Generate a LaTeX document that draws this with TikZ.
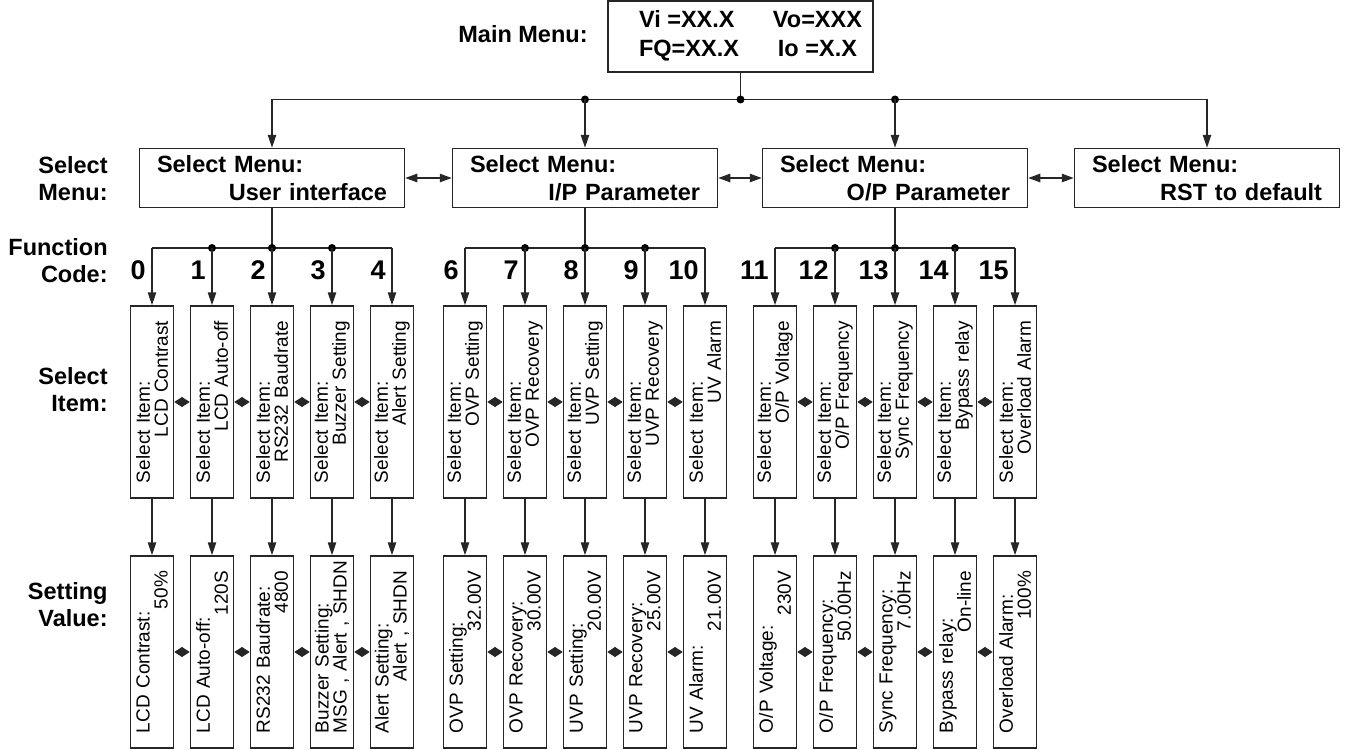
\documentclass[tikz,border=0pt]{standalone}
\usepackage{fontspec}
\setmainfont{Liberation Sans}
\usetikzlibrary{arrows.meta}

\newcommand{\twoline}[2]{#1\\\hspace*{0pt plus 1filll}\mbox{#2}}

\begin{document}
\begin{tikzpicture}[x=0.5pt, y=-0.5pt,
    edge/.style={line width=0.75pt, draw=black!85},
    flow/.style={edge, -{Triangle[length=6.5pt, width=4.2pt]}},
    both/.style={edge, {Triangle[length=6pt, width=4.2pt]}-{Triangle[length=6pt, width=4.2pt]}},
    link/.style={edge, {Triangle[length=4pt, width=5pt]}-{Triangle[length=4pt, width=5pt]}},
    dot/.style={circle, fill=black, inner sep=0pt, minimum size=4pt},
    sidetext/.style={anchor=east, inner sep=0pt, align=right,
        font=\fontsize{11.75}{13.5}\selectfont\bfseries},
    fcode/.style={anchor=east, inner sep=0pt,
        font=\fontsize{13.5}{14}\selectfont\bfseries},
    mainbox/.style={draw=black!85, line width=0.75pt, minimum width=132.5pt,
        minimum height=29.5pt, font=\fontsize{11.75}{14.5}\selectfont\bfseries},
    menubox/.style={draw=black!85, line width=0.75pt, text width=115pt,
        inner xsep=8.75pt, minimum height=29.5pt, align=left,
        font=\fontsize{11.75}{14}\selectfont\bfseries},
    itembox/.style={draw=black!85, line width=0.75pt, rotate=90, text width=81pt,
        inner xsep=7.5pt, inner ysep=1pt, minimum height=21.5pt, align=left,
        font=\fontsize{9.5}{9}\selectfont}
]
    \useasboundingbox (0,0) rectangle (1348,749);

    % row titles
    \node[sidetext] (tmain) at (588,34) {Main Menu:};
    \node[sidetext] (tmenu) at (108,178.5) {Select\\Menu:};
    \node[sidetext] (tcode) at (108,260.5) {Function\\Code:};
    \node[sidetext] (titem) at (108,390) {Select\\Item:};
    \node[sidetext] (tval) at (108,605) {Setting\\Value:};

    % main menu
    \node[mainbox] (main) at (740.5,36.5) {\begin{tabular}{@{\hspace{10pt}}l@{\hspace{17pt}}c@{}}
        Vi =XX.X & Vo=XXX\\ FQ=XX.X & Io =X.X\end{tabular}};

    % select menu
    \node[menubox] (ui) at (272,178) {\twoline{Select Menu:}{User interface}};
    \node[menubox] (ip) at (585,178) {\twoline{Select Menu:}{I/P Parameter}};
    \node[menubox] (op) at (895,178) {\twoline{Select Menu:}{O/P Parameter}};
    \node[menubox] (rst) at (1207,178) {\twoline{Select Menu:}{RST to default}};

    \coordinate (t1) at (272,99.5);
    \coordinate (t2) at (585,99.5);
    \coordinate (t3) at (740.5,99.5);
    \coordinate (t4) at (895,99.5);
    \coordinate (t5) at (1207,99.5);
    \draw[edge] (t1) -- (t5);
    \draw[edge] (main) -- (t3);
    \node[dot] (d2) at (t2) {};
    \node[dot] (d3) at (t3) {};
    \node[dot] (d4) at (t4) {};
    \draw[flow] (t1) -- (ui);
    \draw[flow] (t2) -- (ip);
    \draw[flow] (t4) -- (op);
    \draw[flow] (t5) -- (rst);
    \draw[both] (ui) -- (ip);
    \draw[both] (ip) -- (op);
    \draw[both] (op) -- (rst);

    % select item
    \node[itembox] (i0) at (152,402) {\twoline{Select Item:}{LCD Contrast}};
    \node[itembox] (i1) at (212,402) {\twoline{Select Item:}{LCD Auto-off}};
    \node[itembox] (i2) at (272,402) {\twoline{Select Item:}{RS232 Baudrate}};
    \node[itembox] (i3) at (332,402) {\twoline{Select Item:}{Buzzer Setting}};
    \node[itembox] (i4) at (392,402) {\twoline{Select Item:}{Alert Setting}};
    \node[itembox] (i6) at (465,402) {\twoline{Select Item:}{OVP Setting}};
    \node[itembox] (i7) at (525,402) {\twoline{Select Item:}{OVP Recovery}};
    \node[itembox] (i8) at (585,402) {\twoline{Select Item:}{UVP Setting}};
    \node[itembox] (i9) at (645,402) {\twoline{Select Item:}{UVP Recovery}};
    \node[itembox] (i10) at (705,402) {\twoline{Select Item:}{UV Alarm}};
    \node[itembox] (i11) at (775,402) {\twoline{Select Item:}{O/P Voltage}};
    \node[itembox] (i12) at (835,402) {\twoline{Select Item:}{O/P Frequency}};
    \node[itembox] (i13) at (895,402) {\twoline{Select Item:}{Sync Frequency}};
    \node[itembox] (i14) at (955,402) {\twoline{Select Item:}{Bypass relay}};
    \node[itembox] (i15) at (1015,402) {\twoline{Select Item:}{Overload Alarm}};

    % setting value
    \node[itembox] (v0) at (152,652) {\twoline{LCD Contrast:}{50\%}};
    \node[itembox] (v1) at (212,652) {\twoline{LCD Auto-off:}{120S}};
    \node[itembox] (v2) at (272,652) {\twoline{RS232 Baudrate:}{4800}};
    \node[itembox] (v3) at (332,652) {\twoline{Buzzer Setting:}{MSG , Alert , SHDN}};
    \node[itembox] (v4) at (392,652) {\twoline{Alert Setting:}{Alert , SHDN}};
    \node[itembox] (v6) at (465,652) {\twoline{OVP Setting:}{32.00V}};
    \node[itembox] (v7) at (525,652) {\twoline{OVP Recovery:}{30.00V}};
    \node[itembox] (v8) at (585,652) {\twoline{UVP Setting:}{20.00V}};
    \node[itembox] (v9) at (645,652) {\twoline{UVP Recovery:}{25.00V}};
    \node[itembox] (v10) at (705,652) {\twoline{UV Alarm:}{21.00V}};
    \node[itembox] (v11) at (775,652) {\twoline{O/P Voltage:}{230V}};
    \node[itembox] (v12) at (835,652) {\twoline{O/P Frequency:}{50.00Hz}};
    \node[itembox] (v13) at (895,652) {\twoline{Sync Frequency:}{7.00Hz}};
    \node[itembox] (v14) at (955,652) {\twoline{Bypass relay:}{On-line}};
    \node[itembox] (v15) at (1015,652) {\twoline{Overload Alarm:}{100\%}};

    % function code buses
    \coordinate (b0) at (152,248);
    \coordinate (b1) at (212,248);
    \coordinate (b2) at (272,248);
    \coordinate (b3) at (332,248);
    \coordinate (b4) at (392,248);
    \coordinate (b6) at (465,248);
    \coordinate (b7) at (525,248);
    \coordinate (b8) at (585,248);
    \coordinate (b9) at (645,248);
    \coordinate (b10) at (705,248);
    \coordinate (b11) at (775,248);
    \coordinate (b12) at (835,248);
    \coordinate (b13) at (895,248);
    \coordinate (b14) at (955,248);
    \coordinate (b15) at (1015,248);
    \draw[edge] (b0) -- (b4);
    \draw[edge] (b6) -- (b10);
    \draw[edge] (b11) -- (b15);
    \draw[edge] (ui) -- (b2);
    \draw[edge] (ip) -- (b8);
    \draw[edge] (op) -- (b13);
    \node[dot] (e1) at (b1) {};
    \node[dot] (e2) at (b2) {};
    \node[dot] (e3) at (b3) {};
    \node[dot] (e7) at (b7) {};
    \node[dot] (e8) at (b8) {};
    \node[dot] (e9) at (b9) {};
    \node[dot] (e12) at (b12) {};
    \node[dot] (e13) at (b13) {};
    \node[dot] (e14) at (b14) {};

    \node[fcode] (c0) at (146,270) {0};
    \node[fcode] (c1) at (206,270) {1};
    \node[fcode] (c2) at (266,270) {2};
    \node[fcode] (c3) at (326,270) {3};
    \node[fcode] (c4) at (386,270) {4};
    \node[fcode] (c6) at (459,270) {6};
    \node[fcode] (c7) at (519,270) {7};
    \node[fcode] (c8) at (579,270) {8};
    \node[fcode] (c9) at (639,270) {9};
    \node[fcode] (c10) at (699,270) {10};
    \node[fcode] (c11) at (769,270) {11};
    \node[fcode] (c12) at (829,270) {12};
    \node[fcode] (c13) at (889,270) {13};
    \node[fcode] (c14) at (949,270) {14};
    \node[fcode] (c15) at (1009,270) {15};

    \draw[flow] (b0) -- (i0.east);
    \draw[flow] (b1) -- (i1.east);
    \draw[flow] (b2) -- (i2.east);
    \draw[flow] (b3) -- (i3.east);
    \draw[flow] (b4) -- (i4.east);
    \draw[flow] (b6) -- (i6.east);
    \draw[flow] (b7) -- (i7.east);
    \draw[flow] (b8) -- (i8.east);
    \draw[flow] (b9) -- (i9.east);
    \draw[flow] (b10) -- (i10.east);
    \draw[flow] (b11) -- (i11.east);
    \draw[flow] (b12) -- (i12.east);
    \draw[flow] (b13) -- (i13.east);
    \draw[flow] (b14) -- (i14.east);
    \draw[flow] (b15) -- (i15.east);

    \draw[flow] (i0.west) -- (v0.east);
    \draw[flow] (i1.west) -- (v1.east);
    \draw[flow] (i2.west) -- (v2.east);
    \draw[flow] (i3.west) -- (v3.east);
    \draw[flow] (i4.west) -- (v4.east);
    \draw[flow] (i6.west) -- (v6.east);
    \draw[flow] (i7.west) -- (v7.east);
    \draw[flow] (i8.west) -- (v8.east);
    \draw[flow] (i9.west) -- (v9.east);
    \draw[flow] (i10.west) -- (v10.east);
    \draw[flow] (i11.west) -- (v11.east);
    \draw[flow] (i12.west) -- (v12.east);
    \draw[flow] (i13.west) -- (v13.east);
    \draw[flow] (i14.west) -- (v14.east);
    \draw[flow] (i15.west) -- (v15.east);

    % neighbour links
    \draw[link] (i0.south) -- (i1.north);
    \draw[link] (i1.south) -- (i2.north);
    \draw[link] (i2.south) -- (i3.north);
    \draw[link] (i3.south) -- (i4.north);
    \draw[link] (i6.south) -- (i7.north);
    \draw[link] (i7.south) -- (i8.north);
    \draw[link] (i8.south) -- (i9.north);
    \draw[link] (i9.south) -- (i10.north);
    \draw[link] (i11.south) -- (i12.north);
    \draw[link] (i12.south) -- (i13.north);
    \draw[link] (i13.south) -- (i14.north);
    \draw[link] (i14.south) -- (i15.north);
    \draw[link] (v0.south) -- (v1.north);
    \draw[link] (v1.south) -- (v2.north);
    \draw[link] (v2.south) -- (v3.north);
    \draw[link] (v3.south) -- (v4.north);
    \draw[link] (v6.south) -- (v7.north);
    \draw[link] (v7.south) -- (v8.north);
    \draw[link] (v8.south) -- (v9.north);
    \draw[link] (v9.south) -- (v10.north);
    \draw[link] (v11.south) -- (v12.north);
    \draw[link] (v12.south) -- (v13.north);
    \draw[link] (v13.south) -- (v14.north);
    \draw[link] (v14.south) -- (v15.north);
\end{tikzpicture}
\end{document}
